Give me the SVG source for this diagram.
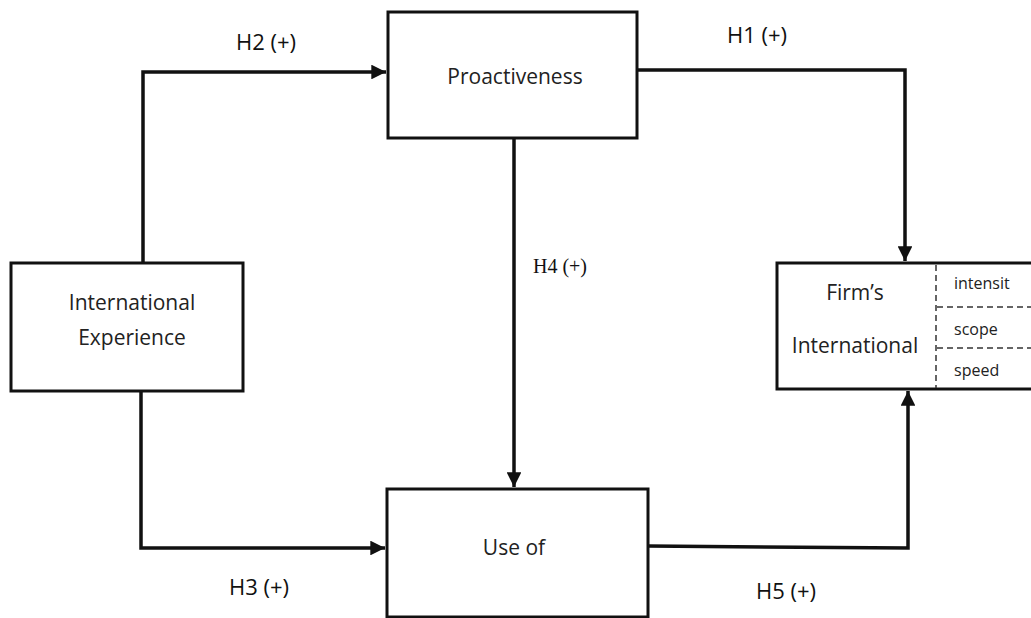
<svg xmlns="http://www.w3.org/2000/svg" width="1031" height="618" viewBox="0 0 1031 618">
<style>
.box{fill:#fff;stroke:#111;stroke-width:3}
.t{font-family:"Open Sans","Liberation Sans",sans-serif;font-size:21px;fill:#222;text-anchor:middle}
.s{font-family:"Open Sans","Liberation Sans",sans-serif;font-size:16px;fill:#222;text-anchor:start}
.lab{font-family:"Open Sans","Liberation Sans",sans-serif;font-size:22px;fill:#111;text-anchor:middle}
.serif{font-family:"Liberation Serif",serif;font-size:20px;fill:#111;text-anchor:middle}
.c{fill:none;stroke:#111;stroke-width:3.5}
.d{fill:none;stroke:#333;stroke-width:1.5;stroke-dasharray:6,4}
</style>
<defs>
<marker id="ah" viewBox="0 0 10 10" refX="10" refY="5" markerWidth="4.2" markerHeight="4.2" markerUnits="strokeWidth" orient="auto">
<path d="M0,0 L10,5 L0,10 z" fill="#111"/>
</marker>
</defs>
<rect width="1031" height="618" fill="#fff"/>
<g id="connectors">
<path class="c" d="M143,263 V72 H386" marker-end="url(#ah)"/>
<path class="c" d="M637,70 H905 V261" marker-end="url(#ah)"/>
<path class="c" d="M514,138 V487" marker-end="url(#ah)"/>
<path class="c" d="M141,391 V548 H385" marker-end="url(#ah)"/>
<path class="c" d="M648,546 L908,548 V391" marker-end="url(#ah)"/>
</g>
<g id="labels">
<text class="lab" x="266" y="50">H2 (+)</text>
<text class="lab" x="757" y="43">H1 (+)</text>
<text class="serif" x="560" y="273">H4 (+)</text>
<text class="lab" x="259" y="595">H3 (+)</text>
<text class="lab" x="786" y="599">H5 (+)</text>
</g>
<g id="proactiveness">
<rect class="box" x="388" y="12" width="249" height="126"/>
<text class="t" x="515" y="84">Proactiveness</text>
</g>
<g id="international-experience">
<rect class="box" x="11" y="263" width="232" height="128"/>
<text class="t" x="132" y="310">International</text>
<text class="t" x="132" y="345">Experience</text>
</g>
<g id="use-of">
<rect class="box" x="387" y="489" width="261" height="128"/>
<text class="t" x="514" y="555">Use of</text>
</g>
<g id="firms-international">
<rect class="box" x="777" y="263" width="262" height="126"/>
<path class="d" d="M936,265 V388"/>
<path class="d" d="M937,307 H1031"/>
<path class="d" d="M937,348 H1031"/>
<text class="t" x="855" y="300">Firm’s</text>
<text class="t" x="855" y="353">International</text>
<text class="s" x="954" y="289">intensit</text>
<text class="s" x="954" y="335">scope</text>
<text class="s" x="954" y="376">speed</text>
</g>
</svg>
